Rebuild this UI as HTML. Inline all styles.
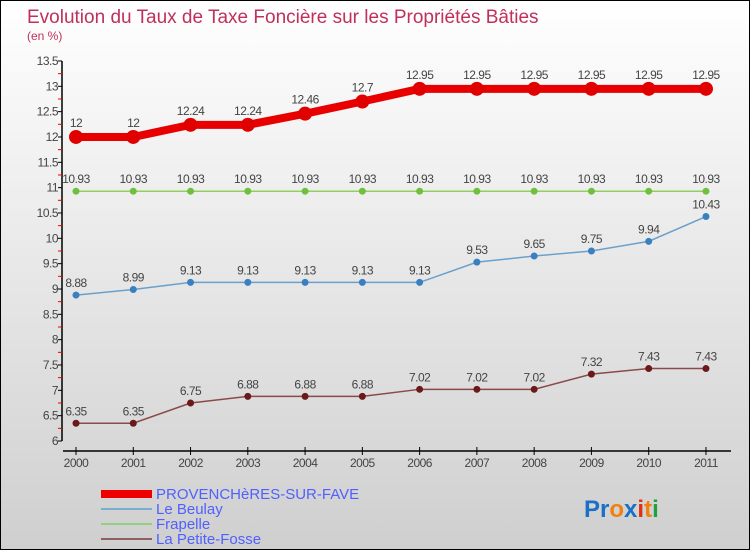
<!DOCTYPE html>
<html><head><meta charset="utf-8"><style>
body{margin:0}
#c{width:748px;height:548px;border:1px solid #000;background:linear-gradient(#ffffff,#cfcfcf);position:relative;font-family:"Liberation Sans",sans-serif;overflow:hidden}
</style></head><body>
<div id="c">
<svg id="s" width="748" height="548" xmlns="http://www.w3.org/2000/svg">
<text x="26" y="22" font-size="19" fill="#c0305a" font-family="Liberation Sans">Evolution du Taux de Taxe Foncière sur les Propriétés Bâties</text>
<text x="26" y="39" font-size="12" fill="#c0305a">(en %)</text>
<g id="axes"></g><g id="series"></g>
<g>
<rect x="100" y="489" width="51" height="8" fill="#e00"/>
<text x="155" y="498" font-size="15" fill="#5060ff">PROVENCHèRES-SUR-FAVE</text>
<line x1="100" y1="508" x2="151" y2="508" stroke="#7aaed0" stroke-width="2"/>
<text x="155" y="513" font-size="15" fill="#5060ff">Le Beulay</text>
<line x1="100" y1="523" x2="151" y2="523" stroke="#90d080" stroke-width="2"/>
<text x="155" y="528" font-size="15" fill="#5060ff">Frapelle</text>
<line x1="100" y1="538" x2="151" y2="538" stroke="#906060" stroke-width="2"/>
<text x="155" y="543" font-size="15" fill="#5060ff">La Petite-Fosse</text>
</g>
<text x="583" y="516" font-size="24" font-weight="bold"><tspan fill="#1a70c8">Pr</tspan><tspan fill="#f08010">o</tspan><tspan fill="#1a70c8">x</tspan><tspan fill="#e03010">i</tspan><tspan fill="#f08010">t</tspan><tspan fill="#20a040">i</tspan></text>
</svg></div>
<script>
const years=["2000","2001","2002","2003","2004","2005","2006","2007","2008","2009","2010","2011"];
const provencheres=[12,12,12.24,12.24,12.46,12.7,12.95,12.95,12.95,12.95,12.95,12.95];
const leBeulay=[8.88,8.99,9.13,9.13,9.13,9.13,9.13,9.53,9.65,9.75,9.94,10.43];
const frapelle=[10.93,10.93,10.93,10.93,10.93,10.93,10.93,10.93,10.93,10.93,10.93,10.93];
const petiteFosse=[6.35,6.35,6.75,6.88,6.88,6.88,7.02,7.02,7.02,7.32,7.43,7.43];
const yTicks=["6","6.5","7","7.5","8","8.5","9","9.5","10","10.5","11","11.5","12","12.5","13","13.5"];
const NS="http://www.w3.org/2000/svg";
const xs=i=>75+i*57.27;
const ys=v=>440-(v-6)*50.67;
function mk(t,a,p){const e=document.createElementNS(NS,t);for(const k in a)e.setAttribute(k,a[k]);p.appendChild(e);return e;}
const ax=document.getElementById('axes');
let l=mk('line',{x1:61,y1:ys(13.5),x2:61,y2:ys(6),stroke:'#000','stroke-width':1.5},ax);


l=mk('line',{x1:62,y1:450,x2:730,y2:450,stroke:'#000','stroke-width':1.5},ax);


yTicks.forEach((t,i)=>{const v=parseFloat(t),y=ys(v);
 mk('line',{x1:57,y1:y,x2:61,y2:y,stroke:'#000'},ax);
 if(i<yTicks.length-1)mk('line',{x1:57,y1:ys(v+0.25),x2:61,y2:ys(v+0.25),stroke:'#e00'},ax);
 const tx=mk('text',{x:57,y:y+4,'font-size':12,fill:'#444','text-anchor':'end','letter-spacing':'-0.5'},ax);tx.textContent=t;
 
 });
years.forEach((yr,i)=>{const x=xs(i);
 mk('line',{x1:x,y1:446,x2:x,y2:454,stroke:'#000'},ax);
 const tx=mk('text',{x:x,y:466,'font-size':12,fill:'#444','text-anchor':'middle','letter-spacing':'-0.5'},ax);tx.textContent=yr;
 
 });
const sg=document.getElementById('series');
function series(name,data,color,w,r,dot){
 const g=mk('g',{},sg);
 
 
 mk('polyline',{points:data.map((v,i)=>xs(i)+','+ys(v)).join(' '),fill:'none',stroke:color,'stroke-width':w},g);
 data.forEach((v,i)=>{const c=mk('circle',{cx:xs(i),cy:ys(v),r:r,fill:dot},g);
  
  
  const t=mk('text',{x:xs(i),y:ys(v)-8-(r>4?2:0),'font-size':12,fill:'#444','text-anchor':'middle','letter-spacing':'-0.5'},g);t.textContent=String(v);
  
  });
}
series('series-frapelle',frapelle,'#90d060',1.5,3.5,'#70c040');
series('series-le-beulay',leBeulay,'#6aa0cc',1.5,3.5,'#3a80c0');
series('series-la-petite-fosse',petiteFosse,'#8a4a4a',1.5,3.5,'#6a1a1a');
series('series-provencheres',provencheres,'#e80000',8,7,'#e00000');
</script>
</body></html>
